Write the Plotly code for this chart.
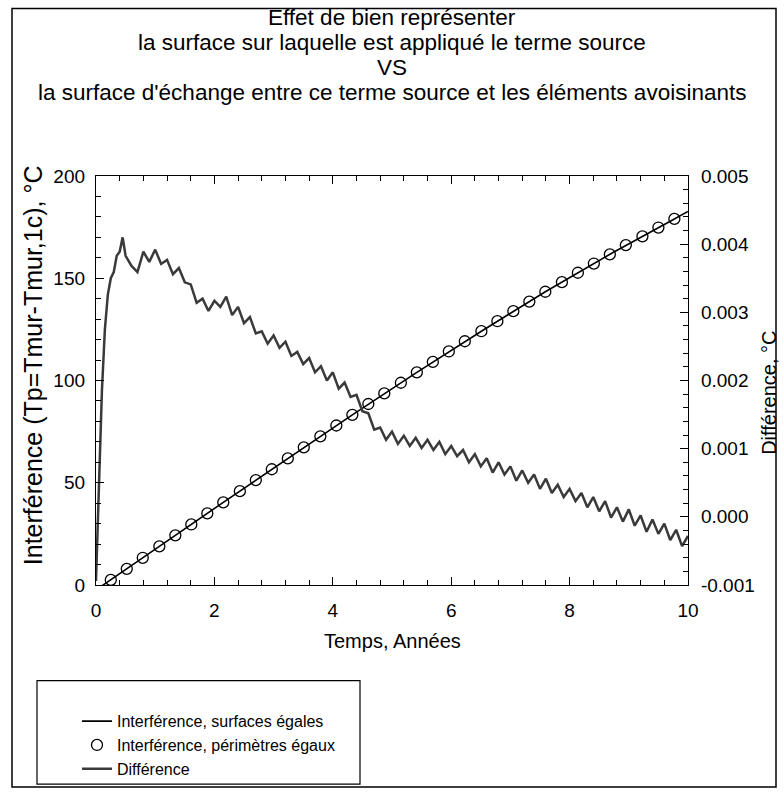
import plotly.graph_objects as go

# ---------------- data ----------------
title_lines = [
    "Effet de bien représenter",
    "la surface sur laquelle est appliqué le terme source",
    "VS",
    "la surface d'échange entre ce terme source et les éléments avoisinants",
]

# Interférence, surfaces égales (solid line, left axis, °C)
line_t = [0.0, 0.25, 1.07, 2.15, 3.24, 4.33, 5.42, 6.51, 7.59, 8.68, 9.77, 10.0]
line_v = [-2.4, 2.5, 18.9, 40.4, 61.9, 83.2, 104.0, 124.1, 143.4, 161.7, 179.0, 182.7]

# Interférence, périmètres égaux (open circles, left axis, °C)
circ_t = [0.25, 0.52, 0.79, 1.07, 1.34, 1.61, 1.88, 2.15, 2.43, 2.70, 2.97, 3.24,
          3.51, 3.79, 4.06, 4.33, 4.60, 4.87, 5.15, 5.42, 5.69, 5.96, 6.23, 6.51,
          6.78, 7.05, 7.32, 7.59, 7.87, 8.14, 8.41, 8.68, 8.95, 9.23, 9.50, 9.77]
circ_v = [2.5, 7.9, 13.3, 18.9, 24.3, 29.6, 35.0, 40.4, 45.9, 51.3, 56.6, 61.9,
          67.3, 72.7, 78.0, 83.2, 88.5, 93.7, 98.9, 104.0, 109.1, 114.2, 119.2, 124.1,
          129.0, 133.9, 138.6, 143.4, 148.1, 152.7, 157.2, 161.7, 166.2, 170.5, 174.8, 179.0]

# Différence (right axis, °C)
diff_t = [0.0, 0.03, 0.06, 0.1, 0.15, 0.2, 0.25, 0.3, 0.35, 0.4, 0.45, 0.5,
          0.6, 0.7, 0.8, 0.9, 1.0, 1.1, 1.2, 1.3, 1.4, 1.5, 1.6, 1.7, 1.8, 1.9,
          2.0, 2.1, 2.2, 2.3, 2.4, 2.5, 2.6, 2.7, 2.8, 2.9,
          3.0, 3.1, 3.2, 3.3, 3.4, 3.5, 3.6, 3.7, 3.8, 3.9,
          4.0, 4.1, 4.2, 4.3, 4.4, 4.5, 4.6, 4.7, 4.8, 4.9,
          5.0, 5.1, 5.2, 5.3, 5.4, 5.5, 5.6, 5.7, 5.8, 5.9,
          6.0, 6.1, 6.2, 6.3, 6.4, 6.5, 6.6, 6.7, 6.8, 6.9,
          7.0, 7.1, 7.2, 7.3, 7.4, 7.5, 7.6, 7.7, 7.8, 7.9,
          8.0, 8.1, 8.2, 8.3, 8.4, 8.5, 8.6, 8.7, 8.8, 8.9,
          9.0, 9.1, 9.2, 9.3, 9.4, 9.5, 9.6, 9.7, 9.8, 9.9, 10.0]
diff_v = [-0.00094, -0.00010, 0.00080, 0.00185, 0.00275, 0.00326, 0.00350, 0.00359,
          0.00383, 0.00389, 0.00410, 0.00383,
          0.00368, 0.00359, 0.00389, 0.00374, 0.00392, 0.00371, 0.00377, 0.00356,
          0.00365, 0.00344, 0.00341, 0.00314, 0.00320, 0.00302,
          0.00317, 0.00308, 0.00323, 0.00296, 0.00308, 0.00284, 0.00293, 0.00269,
          0.00272, 0.00254,
          0.00266, 0.00248, 0.00257, 0.00236, 0.00242, 0.00224, 0.00233, 0.00212,
          0.00221, 0.00200,
          0.00212, 0.00188, 0.00197, 0.00176, 0.00179, 0.00155, 0.00152, 0.00128,
          0.00131, 0.00113,
          0.00125, 0.00107, 0.00119, 0.00104, 0.00116, 0.00101, 0.00113, 0.00098,
          0.00110, 0.00092,
          0.00104, 0.00089, 0.00098, 0.00080, 0.00092, 0.00074, 0.00086, 0.00065,
          0.00080, 0.00062,
          0.00074, 0.00053, 0.00068, 0.00050, 0.00062, 0.00041, 0.00056, 0.00035,
          0.00047, 0.00029,
          0.00041, 0.00023, 0.00035, 0.00014, 0.00029, 0.00008, 0.00023, -0.00001,
          0.00014, -0.00007,
          0.00011, -0.00013, 0.00002, -0.00022, -0.00004, -0.00025, -0.00010, -0.00034,
          -0.00019, -0.00043, -0.00028]

x_ticks = [0, 2, 4, 6, 8, 10]
y_ticks = [0, 50, 100, 150, 200]
y2_ticks = [-0.001, 0.000, 0.001, 0.002, 0.003, 0.004, 0.005]
y2_labels = ["-0.001", "0.000", "0.001", "0.002", "0.003", "0.004", "0.005"]

# ---------------- layout geometry (pixels) ----------------
W, H = 784, 798
PL, PR, PT, PB = 96, 688, 176, 591


def px_x(p):
    return (p - PL) / (PR - PL)


def px_y(p):
    return (PB - p) / (PB - PT)


FONT = "Liberation Sans, Arial, sans-serif"

fig = go.Figure()

fig.add_trace(go.Scatter(
    x=diff_t, y=diff_v, yaxis="y2", mode="lines", name="Différence",
    line=dict(color="#3a3a3a", width=2.5), legendrank=3))
fig.add_trace(go.Scatter(
    x=line_t, y=line_v, mode="lines", name="Interférence, surfaces égales",
    line=dict(color="black", width=1.6), legendrank=1))
fig.add_trace(go.Scatter(
    x=circ_t, y=circ_v, mode="markers", name="Interférence, périmètres égaux",
    marker=dict(symbol="circle-open", size=11, color="black",
                line=dict(width=1.3, color="black")), legendrank=2))

axis_common = dict(
    showline=True, linecolor="black", linewidth=1.3, ticks="inside",
    ticklen=8, tickwidth=1.2, tickcolor="black", showgrid=False, zeroline=False,
    tickfont=dict(family=FONT, size=19, color="black"),
)

fig.update_layout(
    width=W, height=H,
    margin=dict(l=PL, r=W - PR, t=PT, b=H - PB),
    paper_bgcolor="white", plot_bgcolor="white",
    font=dict(family=FONT, color="black"),
    showlegend=True,
    legend=dict(x=px_x(77), y=px_y(712), xanchor="left", yanchor="top",
                bgcolor="rgba(0,0,0,0)", borderwidth=0,
                font=dict(family=FONT, size=16, color="black"),
                tracegroupgap=0),
    xaxis=dict(range=[0, 10], tickvals=x_ticks, mirror="ticks",
               ticklabelstandoff=8,
               minor=dict(dtick=0.4, ticks="inside", ticklen=5, tickcolor="black",
                          tickwidth=1, showgrid=False),
               **axis_common),
    yaxis=dict(range=[0, 200], tickvals=y_ticks, ticklabelstandoff=6,
               minor=dict(dtick=10, ticks="inside", ticklen=5, tickcolor="black",
                          tickwidth=1, showgrid=False),
               **axis_common),
    yaxis2=dict(range=[-0.001, 0.005], overlaying="y", side="right",
                tickvals=y2_ticks, ticktext=y2_labels, ticklabelstandoff=8,
                minor=dict(dtick=0.0002, ticks="inside", ticklen=5, tickcolor="black",
                           tickwidth=1, showgrid=False),
                **axis_common),
)

# title lines
title_y = [15.5, 40.7, 65.9, 91.1]
for txt, yy in zip(title_lines, title_y):
    fig.add_annotation(text=txt, xref="paper", yref="paper", x=px_x(392), y=px_y(yy),
                       xanchor="center", yanchor="middle", showarrow=False, borderpad=0,
                       font=dict(family=FONT, size=22.5, color="black"))

# axis titles
fig.add_annotation(text="Temps, Années", xref="paper", yref="paper",
                   x=px_x(392), y=px_y(648), xanchor="center", yanchor="middle",
                   showarrow=False, font=dict(family=FONT, size=20, color="black"))
fig.add_annotation(text="Interférence (Tp=Tmur-Tmur,1c), °C", xref="paper", yref="paper",
                   x=px_x(33), y=px_y(368), xanchor="center", yanchor="middle",
                   textangle=-90, showarrow=False,
                   font=dict(family=FONT, size=25, color="black"))
fig.add_annotation(text="Différence, °C", xref="paper", yref="paper",
                   x=px_x(769), y=px_y(396), xanchor="center", yanchor="middle",
                   textangle=-90, showarrow=False,
                   font=dict(family=FONT, size=20, color="black"))

# outer frame and legend box
fig.add_shape(type="rect", xref="paper", yref="paper",
              x0=px_x(12), x1=px_x(776), y0=px_y(796), y1=px_y(6),
              line=dict(color="black", width=1.5), fillcolor="rgba(0,0,0,0)", layer="below")
fig.add_shape(type="rect", xref="paper", yref="paper",
              x0=px_x(37), x1=px_x(360), y0=px_y(793), y1=px_y(688),
              line=dict(color="black", width=1.2), fillcolor="rgba(0,0,0,0)", layer="below")

fig.write_html("out.html",
               config={"displayModeBar": False},
               post_script="document.body.style.margin='0';document.body.style.overflow='hidden';")
